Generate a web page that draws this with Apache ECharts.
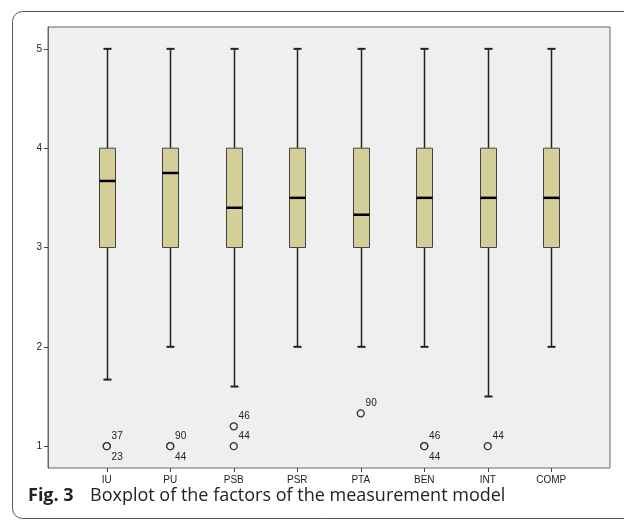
<!DOCTYPE html>
<html><head><meta charset="utf-8">
<script src="https://cdn.jsdelivr.net/npm/echarts@6/dist/echarts.min.js"></script>
<style>html,body{margin:0;padding:0;background:#fff}#c{width:624px;height:521px}</style>
</head><body><div id="c"></div>
<script>
const categories = ['IU','PU','PSB','PSR','PTA','BEN','INT','COMP'];
const whiskerLow  = [1.67, 2, 1.6, 2, 2, 2, 1.5, 2];
const q1          = [3, 3, 3, 3, 3, 3, 3, 3];
const median      = [3.67, 3.75, 3.4, 3.5, 3.33, 3.5, 3.5, 3.5];
const q3          = [4, 4, 4, 4, 4, 4, 4, 4];
const whiskerHigh = [5, 5, 5, 5, 5, 5, 5, 5];
const outlierCat  = ['IU','PU','PSB','PSB','PTA','BEN','INT'];
const outlierVal  = [1, 1, 1.2, 1, 1.33, 1, 1];
const outlierIdUpper = ['37','90','46','44','90','46','44'];
const outlierIdLower = ['23','44','','','','44',''];
const yTicks = [1, 2, 3, 4, 5];

const boxData = categories.map((c, i) => [i, whiskerLow[i], q1[i], median[i], q3[i], whiskerHigh[i]]);
const outUpper = outlierCat.map((c, i) => ({value: [categories.indexOf(c), outlierVal[i]], name: outlierIdUpper[i]}));
const outLower = outlierCat.map((c, i) => ({value: [categories.indexOf(c), outlierVal[i]], name: outlierIdLower[i]}))
  .filter(d => d.name !== '');

const chart = echarts.init(document.getElementById('c'));
const BOXW = 16, CAPW = 8;
function renderBox(params, api) {
  const x = api.value(0);
  const pLow = api.coord([x, api.value(1)]);
  const pQ1 = api.coord([x, api.value(2)]);
  const pMed = api.coord([x, api.value(3)]);
  const pQ3 = api.coord([x, api.value(4)]);
  const pHigh = api.coord([x, api.value(5)]);
  const cx = Math.round(pQ1[0]) + 0.5;
  const lineStyle = {stroke: '#222', lineWidth: 1.5};
  return {
    type: 'group',
    children: [
      {type: 'line', shape: {x1: cx, y1: pQ3[1], x2: cx, y2: pHigh[1]}, style: lineStyle},
      {type: 'line', shape: {x1: cx, y1: pQ1[1], x2: cx, y2: pLow[1]}, style: lineStyle},
      {type: 'line', shape: {x1: cx - CAPW/2, y1: pHigh[1], x2: cx + CAPW/2, y2: pHigh[1]}, style: {stroke: '#222', lineWidth: 2}},
      {type: 'line', shape: {x1: cx - CAPW/2, y1: pLow[1], x2: cx + CAPW/2, y2: pLow[1]}, style: {stroke: '#222', lineWidth: 2}},
      {type: 'rect', shape: {x: cx - BOXW/2, y: pQ3[1], width: BOXW, height: pQ1[1] - pQ3[1]},
        style: {fill: '#d4cf98', stroke: '#444', lineWidth: 1}},
      {type: 'line', shape: {x1: cx - BOXW/2, y1: pMed[1], x2: cx + BOXW/2, y2: pMed[1]}, style: {stroke: '#000', lineWidth: 2.5}}
    ]
  };
}

const labelFont = {fontFamily: 'Liberation Sans, Arial, sans-serif', fontSize: 10, color: '#222'};

chart.setOption({
  animation: false,
  graphic: [
    {type: 'rect', z: -10, shape: {x: 12.5, y: 11.5, width: 700, height: 507, r: 10},
      style: {fill: 'none', stroke: '#555', lineWidth: 1}},
    {type: 'text', left: 28, top: 487,
      style: {text: '{b|Fig. 3}{n|Boxplot of the factors of the measurement model}',
        rich: {
          b: {fontFamily: 'Open Sans', fontWeight: 'bold', fontSize: 18, fill: '#222', width: 62},
          n: {fontFamily: 'Open Sans', fontSize: 18, fill: '#222'}
        }}}
  ],
  grid: [
    {left: 48, top: 27, width: 562, height: 441, show: true, backgroundColor: '#efefef', borderColor: '#666', borderWidth: 1},
    {left: 75, top: 27, width: 508, height: 441}
  ],
  xAxis: [
    {gridIndex: 0, type: 'value', show: false, min: 0, max: 1},
    {gridIndex: 1, type: 'category', data: categories,
      axisLine: {show: false},
      axisTick: {show: true, alignWithLabel: true, length: 4, lineStyle: {color: '#444'}},
      axisLabel: Object.assign({margin: 7}, labelFont)}
  ],
  yAxis: [
    {gridIndex: 0, type: 'value', min: 0.78, max: 5.22,
      splitLine: {show: false},
      axisLine: {show: true, lineStyle: {color: '#666'}},
      axisTick: {show: true, length: 4, customValues: yTicks, lineStyle: {color: '#444'}},
      axisLabel: Object.assign({margin: 6, customValues: yTicks}, labelFont)},
    {gridIndex: 1, type: 'value', min: 0.78, max: 5.22, show: false}
  ],
  series: [
    {type: 'custom', xAxisIndex: 1, yAxisIndex: 1, data: boxData, renderItem: renderBox,
      encode: {x: 0, y: [1, 2, 3, 4, 5]}},
    {type: 'scatter', xAxisIndex: 1, yAxisIndex: 1, data: outUpper,
      symbol: 'circle', symbolSize: 7,
      itemStyle: {color: '#efefef', borderColor: '#333', borderWidth: 1.3, opacity: 1},
      label: Object.assign({show: true, formatter: '{b}', position: [9, -11]}, labelFont)},
    {type: 'scatter', xAxisIndex: 1, yAxisIndex: 1, data: outLower,
      symbol: 'circle', symbolSize: 7,
      itemStyle: {color: '#efefef', borderColor: '#333', borderWidth: 1.3, opacity: 1},
      label: Object.assign({show: true, formatter: '{b}', position: [9, 10]}, labelFont)}
  ]
});
</script></body></html>
